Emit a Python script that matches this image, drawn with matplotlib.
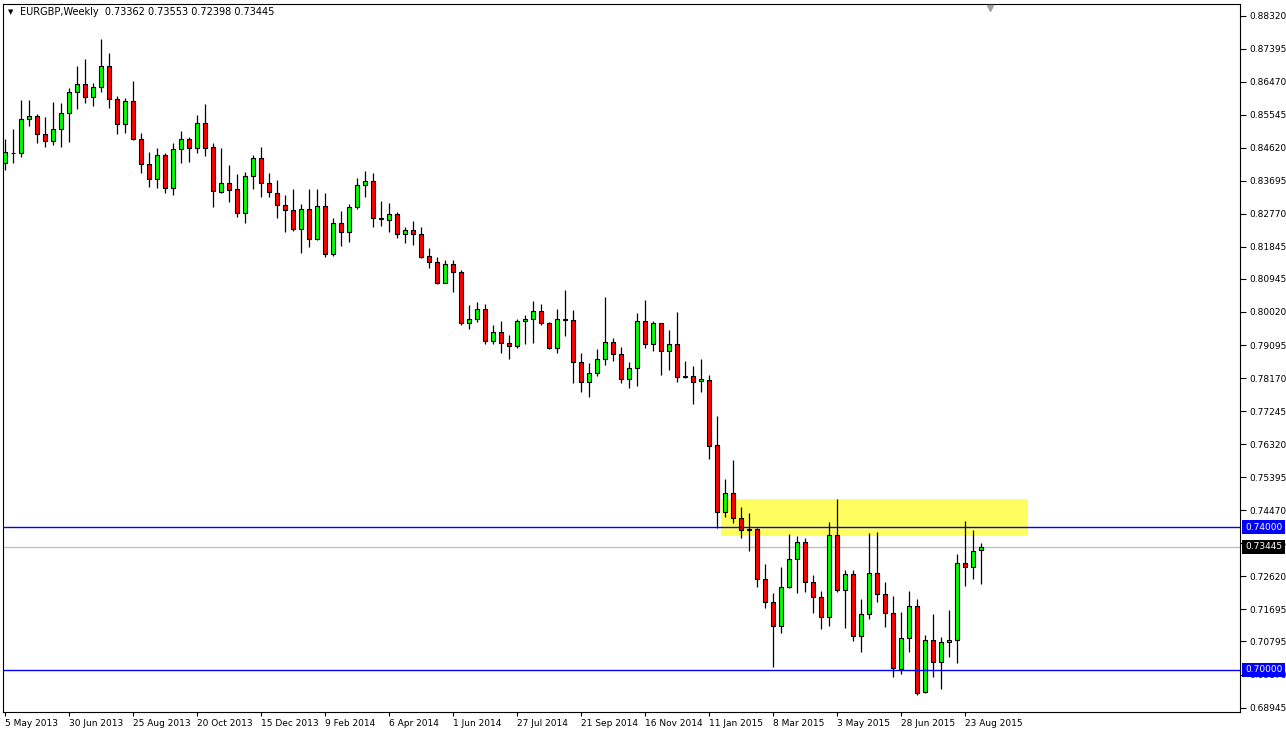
import matplotlib
matplotlib.use('Agg')
import matplotlib.pyplot as plt
import matplotlib.transforms as mtransforms
from matplotlib.patches import Rectangle
import numpy as np

# EURGBP weekly candles, one per week from 5 May 2013
opens = [0.8418, 0.8446, 0.8446, 0.8542, 0.8550, 0.8500, 0.8480, 0.8514, 0.8558, 0.8617,
         0.8640, 0.8603, 0.8631, 0.8690, 0.8598, 0.8528, 0.8592, 0.8486, 0.8416, 0.8374,
         0.8441, 0.8348, 0.8458, 0.8486, 0.8460, 0.8530, 0.8463, 0.8339, 0.8362, 0.8346,
         0.8278, 0.8382, 0.8432, 0.8362, 0.8334, 0.8301, 0.8287, 0.8235, 0.8290, 0.8206,
         0.8298, 0.8164, 0.8250, 0.8225, 0.8295, 0.8357, 0.8368, 0.8264, 0.8261, 0.8276,
         0.8220, 0.8231, 0.8220, 0.8159, 0.8141, 0.8084, 0.8135, 0.8113, 0.7970, 0.7982,
         0.8010, 0.7920, 0.7945, 0.7914, 0.7906, 0.7976, 0.7982, 0.8004, 0.7970, 0.7902,
         0.7982, 0.7979, 0.7861, 0.7807, 0.7830, 0.7870, 0.7917, 0.7884, 0.7814, 0.7844,
         0.7976, 0.7912, 0.7970, 0.7892, 0.7912, 0.7821, 0.7824, 0.7808, 0.7813, 0.7629,
         0.7443, 0.7494, 0.7425, 0.7391, 0.7395, 0.7254, 0.7191, 0.7122, 0.7231, 0.7310,
         0.7357, 0.7245, 0.7205, 0.7147, 0.7377, 0.7224, 0.7268, 0.7094, 0.7156, 0.7270,
         0.7212, 0.7158, 0.7002, 0.7088, 0.7179, 0.6937, 0.7083, 0.7023, 0.7077, 0.7083,
         0.7298, 0.7287, 0.73362]
highs = [0.8486, 0.8515, 0.8596, 0.8596, 0.8557, 0.8547, 0.8590, 0.8586, 0.8628, 0.8691,
         0.8710, 0.8644, 0.8766, 0.8726, 0.8607, 0.8600, 0.8649, 0.8502, 0.8451, 0.8460,
         0.8446, 0.8474, 0.8508, 0.8493, 0.8553, 0.8584, 0.8474, 0.8460, 0.8414, 0.8388,
         0.8393, 0.8442, 0.8465, 0.8390, 0.8372, 0.8330, 0.8346, 0.8304, 0.8346, 0.8346,
         0.8335, 0.8264, 0.8285, 0.8304, 0.8376, 0.8396, 0.8390, 0.8313, 0.8306, 0.8282,
         0.8241, 0.8257, 0.8241, 0.8180, 0.8155, 0.8149, 0.8149, 0.8120, 0.8021, 0.8030,
         0.8024, 0.7966, 0.7977, 0.7938, 0.7983, 0.7993, 0.8032, 0.8024, 0.7975, 0.8010,
         0.8064, 0.8008, 0.7886, 0.7858, 0.7898, 0.8043, 0.7928, 0.7905, 0.7863, 0.7999,
         0.8036, 0.7976, 0.7972, 0.7952, 0.8002, 0.7865, 0.7851, 0.7869, 0.7827, 0.7711,
         0.7535, 0.7588, 0.7457, 0.7440, 0.7397, 0.7296, 0.7215, 0.7287, 0.7381, 0.7375,
         0.7368, 0.7265, 0.7221, 0.7414, 0.7479, 0.7280, 0.7280, 0.7198, 0.7384, 0.7387,
         0.7246, 0.7207, 0.7161, 0.7221, 0.7198, 0.7098, 0.7157, 0.7093, 0.7168, 0.7324,
         0.7417, 0.7392, 0.73553]
lows = [0.8400, 0.8418, 0.8437, 0.8524, 0.8474, 0.8463, 0.8471, 0.8465, 0.8479, 0.8571,
        0.8586, 0.8580, 0.8619, 0.8574, 0.8501, 0.8504, 0.8484, 0.8390, 0.8353, 0.8348,
        0.8334, 0.8329, 0.8420, 0.8423, 0.8448, 0.8440, 0.8297, 0.8336, 0.8311, 0.8269,
        0.8250, 0.8346, 0.8325, 0.8325, 0.8266, 0.8227, 0.8230, 0.8166, 0.8185, 0.8204,
        0.8155, 0.8160, 0.8188, 0.8199, 0.8290, 0.8325, 0.8241, 0.8244, 0.8227, 0.8210,
        0.8194, 0.8189, 0.8154, 0.8124, 0.8080, 0.8082, 0.8059, 0.7965, 0.7955, 0.7973,
        0.7911, 0.7911, 0.7886, 0.7870, 0.7901, 0.7911, 0.7914, 0.7965, 0.7899, 0.7886,
        0.7936, 0.7804, 0.7779, 0.7763, 0.7823, 0.7854, 0.7866, 0.7804, 0.7790, 0.7796,
        0.7900, 0.7894, 0.7827, 0.7840, 0.7807, 0.7816, 0.7745, 0.7779, 0.7591, 0.7397,
        0.7429, 0.7410, 0.7368, 0.7334, 0.7233, 0.7173, 0.7009, 0.7104, 0.7229, 0.7216,
        0.7219, 0.7158, 0.7114, 0.7124, 0.7219, 0.7118, 0.7082, 0.7051, 0.7142, 0.7191,
        0.7119, 0.6979, 0.6988, 0.7051, 0.6930, 0.6934, 0.6979, 0.6946, 0.7035, 0.7020,
        0.7235, 0.7255, 0.72398]
closes = [0.8449, 0.8448, 0.8542, 0.8550, 0.8500, 0.8480, 0.8514, 0.8558, 0.8617, 0.8640,
          0.8603, 0.8631, 0.8690, 0.8598, 0.8528, 0.8592, 0.8486, 0.8416, 0.8374, 0.8441,
          0.8348, 0.8458, 0.8486, 0.8460, 0.8530, 0.8460, 0.8340, 0.8362, 0.8344, 0.8278,
          0.8382, 0.8432, 0.8362, 0.8337, 0.8301, 0.8287, 0.8235, 0.8290, 0.8206, 0.8298,
          0.8164, 0.8250, 0.8225, 0.8295, 0.8357, 0.8368, 0.8264, 0.8263, 0.8276, 0.8220,
          0.8231, 0.8220, 0.8157, 0.8141, 0.8084, 0.8135, 0.8113, 0.7970, 0.7982, 0.8010,
          0.7920, 0.7945, 0.7914, 0.7906, 0.7976, 0.7982, 0.8004, 0.7970, 0.7902, 0.7982,
          0.7979, 0.7861, 0.7807, 0.7830, 0.7870, 0.7917, 0.7884, 0.7814, 0.7844, 0.7976,
          0.7912, 0.7970, 0.7892, 0.7912, 0.7821, 0.7824, 0.7807, 0.7813, 0.7628, 0.7443,
          0.7496, 0.7425, 0.7391, 0.7395, 0.7254, 0.7191, 0.7122, 0.7231, 0.7310, 0.7357,
          0.7245, 0.7205, 0.7149, 0.7377, 0.7224, 0.7268, 0.7094, 0.7156, 0.7270, 0.7212,
          0.7158, 0.7004, 0.7088, 0.7179, 0.6934, 0.7083, 0.7023, 0.7077, 0.7083, 0.7298,
          0.7287, 0.7333, 0.73445]

date_labels = ['5 May 2013', '30 Jun 2013', '25 Aug 2013', '20 Oct 2013', '15 Dec 2013',
               '9 Feb 2014', '6 Apr 2014', '1 Jun 2014', '27 Jul 2014', '21 Sep 2014',
               '16 Nov 2014', '11 Jan 2015', '8 Mar 2015', '3 May 2015', '28 Jun 2015',
               '23 Aug 2015']
price_ticks = [0.88320, 0.87395, 0.86470, 0.85545, 0.84620, 0.83695, 0.82770, 0.81845,
               0.80945, 0.80020, 0.79095, 0.78170, 0.77245, 0.76320, 0.75395, 0.74470,
               0.73545, 0.72620, 0.71695, 0.70795, 0.69870, 0.68945]

# horizontal levels and the supply zone (zone x in bar numbers)
level_top = 0.74000
level_bottom = 0.70000
zone_start, zone_end = 89.5, 127.9
zone_low, zone_high = 0.7375, 0.7478


o = np.array(opens)
h = np.array(highs)
l = np.array(lows)
c = np.array(closes)
x = np.arange(len(c))

fig = plt.figure(figsize=(12.86, 7.32), dpi=100)
ax = fig.add_axes([3/1286, 20/732, 1237/1286, 708/732])

# ZONE
ax.add_patch(Rectangle((zone_start, zone_low), zone_end - zone_start, zone_high - zone_low,
                       facecolor='#ffff60', edgecolor='none', zorder=1))

# CANDLES
colors = np.where(c >= o, '#00ff00', '#ff0000')
ax.vlines(x, l, h, color='black', lw=0.9, zorder=3)
ax.bar(x, np.maximum(np.abs(c - o), 0.00003), bottom=np.minimum(o, c), width=0.6,
       color=colors, edgecolor='black', linewidth=0.8, zorder=4)

# LEVELS
ax.axhline(c[-1], color='#c0c0c0', lw=1, zorder=2)
ax.axhline(level_top, color='#0000ff', lw=1, zorder=5)
ax.axhline(level_bottom, color='#0000ff', lw=1, zorder=5)

ax.set_xlim(-0.25, 154.375)
ax.set_ylim(0.6882, 0.88644)

# AXES
ax.yaxis.tick_right()
ax.set_yticks(price_ticks)
ax.set_yticklabels([f'{v:.5f}' for v in price_ticks])
ax.tick_params(axis='y', direction='out', length=4, width=0.8, labelsize=6.5, pad=3)
ax.set_xticks(np.arange(0, 8 * len(date_labels), 8))
ax.set_xticklabels(date_labels, ha='left')
ax.tick_params(axis='x', direction='out', length=3, width=0.8, labelsize=6.5, pad=2)
for s in ax.spines.values():
	s.set_linewidth(0.8)

# PRICE TAGS ON THE RIGHT (drawn over the scale, as on the terminal)
trans = mtransforms.blended_transform_factory(ax.transAxes, ax.transData)
tags = [(level_top, '#0000ff'), (c[-1], 'black'), (level_bottom, '#0000ff')]
for val, bg in tags:
	ax.text(1.0 + 5/1237, val, f'{val:.5f}', transform=trans, ha='left', va='center',
	        fontsize=6.5, color='white', clip_on=False, zorder=10,
	        bbox=dict(boxstyle='square,pad=0.3', fc=bg, ec='none'))

# HEADER
fig.text(8/1286, 1 - 12/732, '\u25bc', fontsize=5, va='center', ha='left')
fig.text(20/1286, 1 - 12/732,
         f'EURGBP,Weekly  {o[-1]:.5f} {h[-1]:.5f} {l[-1]:.5f} {c[-1]:.5f}',
         fontsize=7, va='center', ha='left')

# chart shift marker
trans2 = mtransforms.blended_transform_factory(ax.transData, ax.transAxes)
ax.plot([len(c) + 0.1], [0.995], marker='v', color='#a0a0a0', markersize=5,
        transform=trans2, clip_on=False, zorder=6)

plt.savefig('out.png', dpi=100)
plt.close()
